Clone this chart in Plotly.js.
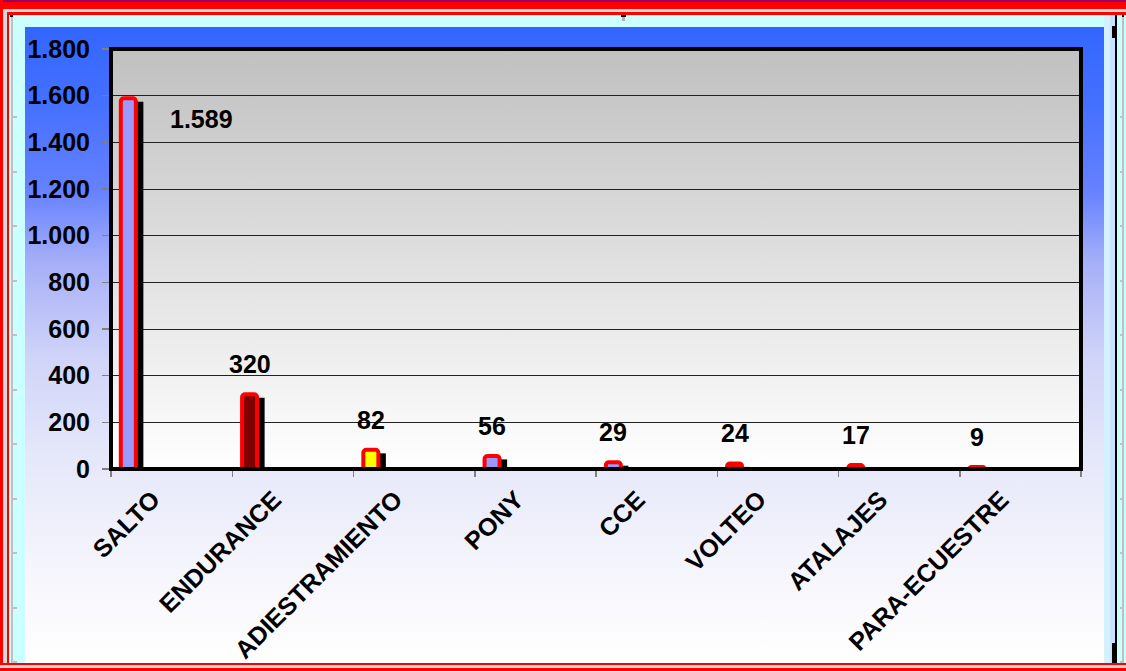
<!DOCTYPE html>
<html>
<head>
<meta charset="utf-8">
<script src="https://cdn.plot.ly/plotly-3.0.1.min.js"></script>
<style>
  html, body { margin: 0; padding: 0; background: #ffffff; }
  #wrap { position: relative; width: 1126px; height: 671px; overflow: hidden; background: #CCFFFF; }
  .d { position: absolute; }
  #chart { position: absolute; left: 0; top: 0; width: 1126px; height: 671px; }
</style>
</head>
<body>
<div id="wrap">
  <!-- blue gradient panel -->
  <div class="d" style="left:25px; top:27px; width:1079px; height:636px;
       background: linear-gradient(to bottom, #3366FF 0%, #4470FF 12%, #6682FF 26%, #A6AFF8 37%, #D0D4F8 52%, #E6E8FA 68%, #F4F4FC 84%, #FFFFFF 100%);"></div>
  <!-- plot area gradient -->
  <div class="d" style="left:111px; top:49px; width:970px; height:420px;
       background: linear-gradient(to bottom, #C0C0C0 0%, #FFFFFF 100%);"></div>
  <!-- right strips -->
  <div class="d" style="left:1104px; top:15px; width:6px; height:648px; background:#D2F2FF;"></div>
  <div class="d" style="left:1110px; top:15px; width:5px; height:648px; background:#C8E2FF;"></div>
  <div class="d" style="left:1115px; top:15px; width:2px; height:648px; background:#000000;"></div>
  <div class="d" style="left:1112px; top:26px; width:5px; height:12px; background:#000000;"></div>
  <div class="d" style="left:1112px; top:643px; width:5px; height:20px; background:#000000;"></div>
  <div class="d" style="left:1122px; top:15px; width:2px; height:648px; background:#C0C0C0;"></div>
  <div class="d" style="left:1122px; top:15px; width:2px; height:2px; background:#000000;"></div>
  <!-- left ruler line -->
  <div class="d" style="left:11px; top:15px; width:2px; height:648px; background:#C0C0C0;"></div>
  <div class="d" style="left:10px; top:15px; width:3px; height:2px; background:#000000;"></div>
  <!-- small mark at top -->
  <div class="d" style="left:621px; top:15px; width:5px; height:2px; background:#000000;"></div>
  <div class="d" style="left:622px; top:17px; width:3px; height:4px; background:#B0B0B0;"></div>
  <!-- top frame -->
  <div class="d" style="left:0; top:0; width:1126px; height:2px; background:#990066;"></div>
  <div class="d" style="left:0; top:2px; width:1126px; height:7px; background:#FF0000;"></div>
  <div class="d" style="left:0; top:9px; width:1126px; height:3px; background:#D8D8D8;"></div>
  <div class="d" style="left:0; top:12px; width:1126px; height:3px; background:#FF0000;"></div>
  <!-- left frame -->
  <div class="d" style="left:0; top:0; width:3px; height:671px; background:#FF0000;"></div>
  <div class="d" style="left:3px; top:12px; width:4px; height:659px; background:#D8D8D8;"></div>
  <div class="d" style="left:7px; top:12px; width:2px; height:659px; background:#FF0000;"></div>
  <!-- bottom frame -->
  <div class="d" style="left:0; top:663px; width:1126px; height:2px; background:#FF0000;"></div>
  <div class="d" style="left:0; top:665px; width:1126px; height:3px; background:#D8D8D8;"></div>
  <div class="d" style="left:0; top:668px; width:1126px; height:3px; background:#FF0000;"></div>
  <div id="chart"></div>
</div>
<script>
// ---- data ----
const categories = ['SALTO', 'ENDURANCE', 'ADIESTRAMIENTO', 'PONY', 'CCE', 'VOLTEO', 'ATALAJES', 'PARA-ECUESTRE'];
const values = [1589, 320, 82, 56, 29, 24, 17, 9];
const barColors = ['#9999FF', '#800000', '#FFFF00', '#9999FF', '#9999FF', '#FF0000', '#FF0000', '#FF0000'];
const yTickValues = [0, 200, 400, 600, 800, 1000, 1200, 1400, 1600, 1800];

// decorative ruler ticks on the worksheet edges
(function () {
  const wrap = document.getElementById('wrap');
  const chart = document.getElementById('chart');
  for (let k = 0; k < 11; k++) {
    const y = 117 + k * 54.5;
    const a = document.createElement('div');
    a.className = 'd';
    a.style.cssText = 'left:13px; top:' + (y - 1) + 'px; width:4px; height:2px; background:#C0C0C0;';
    wrap.insertBefore(a, chart);
    const b = document.createElement('div');
    b.className = 'd';
    b.style.cssText = 'left:1120px; top:' + (y - 1) + 'px; width:4px; height:2px; background:#C0C0C0;';
    wrap.insertBefore(b, chart);
  }
})();

function fmt(n) {
  return String(n).replace(/\B(?=(\d{3})+(?!\d))/g, '.');
}

const FONT = 'Arial, "Liberation Sans", sans-serif';
const FS = 25;
const shadowDrop = 15;

const shadow = {
  type: 'bar',
  x: categories,
  y: values.map(v => Math.max(0, v - shadowDrop)),
  offset: -0.39,
  width: 0.157,
  marker: { color: '#000000', line: { width: 0 } },
  hoverinfo: 'skip',
  showlegend: false
};

const main = {
  type: 'bar',
  x: categories,
  y: values,
  offset: -0.419,
  width: 0.124,
  marker: { color: barColors, line: { color: '#FF0000', width: 4 }, cornerradius: 3 },
  showlegend: false
};

const annotations = categories.map((c, i) => ({
  x: c,
  y: values[i],
  xref: 'x',
  yref: 'y',
  text: fmt(values[i]),
  showarrow: false,
  xanchor: 'center',
  yanchor: 'middle',
  xshift: i === 0 ? 30 : -43.3,
  yshift: i === 0 ? -21 : 30,
  font: { family: FONT, size: FS, color: '#000000', weight: 700 }
}));

const layout = {
  width: 1126,
  height: 671,
  margin: { l: 111, r: 45, t: 49, b: 202, pad: 0 },
  paper_bgcolor: 'rgba(0,0,0,0)',
  plot_bgcolor: 'rgba(0,0,0,0)',
  barmode: 'overlay',
  separators: ',.',
  showlegend: false,
  font: { family: FONT, color: '#000000' },
  xaxis: {
    type: 'category',
    range: [-0.5, categories.length - 0.5],
    tickson: 'boundaries',
    ticks: 'outside',
    ticklen: 7,
    tickwidth: 1.5,
    tickcolor: '#808080',
    tickangle: -45,
    ticklabelshift: -19,
    ticklabelstandoff: 10,
    showgrid: false,
    showline: false,
    zeroline: false,
    tickfont: { family: FONT, size: FS, color: '#000000', weight: 700 }
  },
  yaxis: {
    range: [0, 1800],
    tickvals: yTickValues,
    tickformat: ',d',
    ticks: 'outside',
    ticklen: 8,
    tickwidth: 1.5,
    tickcolor: '#808080',
    ticklabelstandoff: 7,
    showgrid: true,
    gridcolor: '#222222',
    gridwidth: 1,
    zeroline: false,
    showline: false,
    tickfont: { family: FONT, size: FS, color: '#000000', weight: 700 }
  },
  shapes: [{
    type: 'rect', xref: 'paper', yref: 'paper', x0: 0, x1: 1, y0: 0, y1: 1,
    line: { color: '#000000', width: 4 }, fillcolor: 'rgba(0,0,0,0)', layer: 'above'
  }],
  annotations: annotations
};

Plotly.newPlot('chart', [shadow, main], layout, { displayModeBar: false, staticPlot: true });
</script>
</body>
</html>
